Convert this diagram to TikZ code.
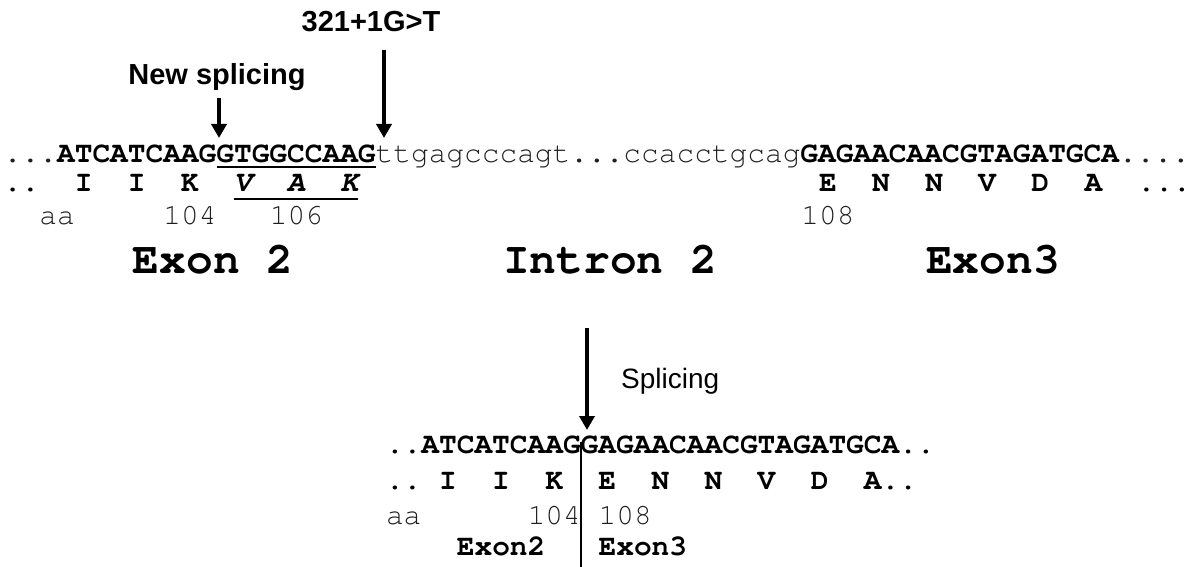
\documentclass[tikz,border=0pt]{standalone}
\usepackage[T1]{fontenc}
\usepackage{fontspec}
\setmainfont{Liberation Sans}
\setsansfont{Liberation Sans}
\usetikzlibrary{arrows.meta}
\definecolor{thincol}{gray}{0.12}
\newcommand\cour{\fontencoding{T1}\fontfamily{pcr}\selectfont}
\newcommand\sqG[1]{\textcolor{thincol}{#1}}
\tikzset{
  seq/.style={anchor=base west, inner sep=0pt, outer sep=0pt, font=\fontsize{29.5}{30}\cour},
  numtxt/.style={seq, text=thincol},
  bigtxt/.style={anchor=base, inner sep=0pt, font=\fontsize{44.5}{46}\cour\bfseries},
  lbl/.style={anchor=base, inner sep=0pt, font=\fontsize{29}{31}\selectfont\sffamily\bfseries},
  arr/.style={line width=3.5pt, -{Triangle[width=15pt,length=14pt]}},
  uline/.style={line width=2.5pt},
}
\begin{document}
\begin{tikzpicture}[x=1pt,y=-1pt]
\useasboundingbox (0,0) rectangle (1192,567);

% ---- top labels and arrows
\node[lbl] (mut) at (371,32) {321+1G>T};
\coordinate (mutA) at (384,50);
\coordinate (mutB) at (384,138);
\draw[arr] (mutA) -- (mutB);

\node[lbl] (news) at (217,85) {New splicing};
\coordinate (newA) at (219,98);
\coordinate (newB) at (219,138);
\draw[arr] (newA) -- (newB);

% ---- top sequence (cell width 17.72, origin x=4)
\node[seq] (s1) at (4,163) {\sqG{...}\textbf{ATCATCAAGGTGGCCAAG}\sqG{ttgagcccagt...ccacctgcag}\textbf{GAGAACAACGTAGATGCA}\sqG{....}};
\coordinate (u1a) at ({4+12*17.72},167);
\coordinate (u1b) at ({4+21*17.72},167);
\draw[uline] (u1a) -- (u1b);

\node[seq] (p1) at (4,192) {\textbf{..~~I~~I~~K~~\textsl{V~~A~~K}}};
\node[seq] (p2) at ({4+46*17.72},192) {\textbf{E~~N~~N~~V~~D~~A~~...}};
\coordinate (u2a) at ({4+13*17.72},199);
\coordinate (u2b) at ({4+20*17.72},199);
\draw[uline] (u2a) -- (u2b);

\node[numtxt] (aa1) at ({4+2*17.72},224) {aa};
\node[numtxt] (n104) at ({4+9*17.72},224) {104};
\node[numtxt] (n106) at ({4+15*17.72},224) {106};
\node[numtxt] (n108) at ({4+45*17.72},224) {108};

\node[bigtxt] (ex2) at (213,273) {Exon 2};
\node[bigtxt] (in2) at (610,273) {Intron 2};
\node[bigtxt] (ex3) at (993,273) {Exon3};

% ---- splicing arrow
\coordinate (spA) at (587,328);
\coordinate (spB) at (587,430);
\draw[arr] (spA) -- (spB);
\node[lbl, anchor=base west, font=\fontsize{28}{30}\selectfont\sffamily] (spl) at (621,388) {Splicing};

% ---- bottom sequence (origin x=386)
\node[seq] (b1) at (386,453) {\textbf{..ATCATCAAGGAGAACAACGTAGATGCA..}};
\node[seq] (b2) at (386,489) {\textbf{..~I~~I~~K~~E~~N~~N~~V~~D~~A..}};
\node[numtxt] (baa) at (386,524) {aa};
\node[numtxt] (b104) at ({386+8*17.72},524) {104};
\node[numtxt] (b108) at ({386+12*17.72},524) {108};
\node[seq] (bex2) at ({386+4*17.72},555) {\textbf{Exon2}};
\node[seq] (bex3) at ({386+12*17.72},555) {\textbf{Exon3}};

\coordinate (vt) at ({386+11*17.72},442);
\coordinate (vb) at ({386+11*17.72},567);
\draw[line width=1.3pt] (vt) -- (vb);
\end{tikzpicture}
\end{document}
